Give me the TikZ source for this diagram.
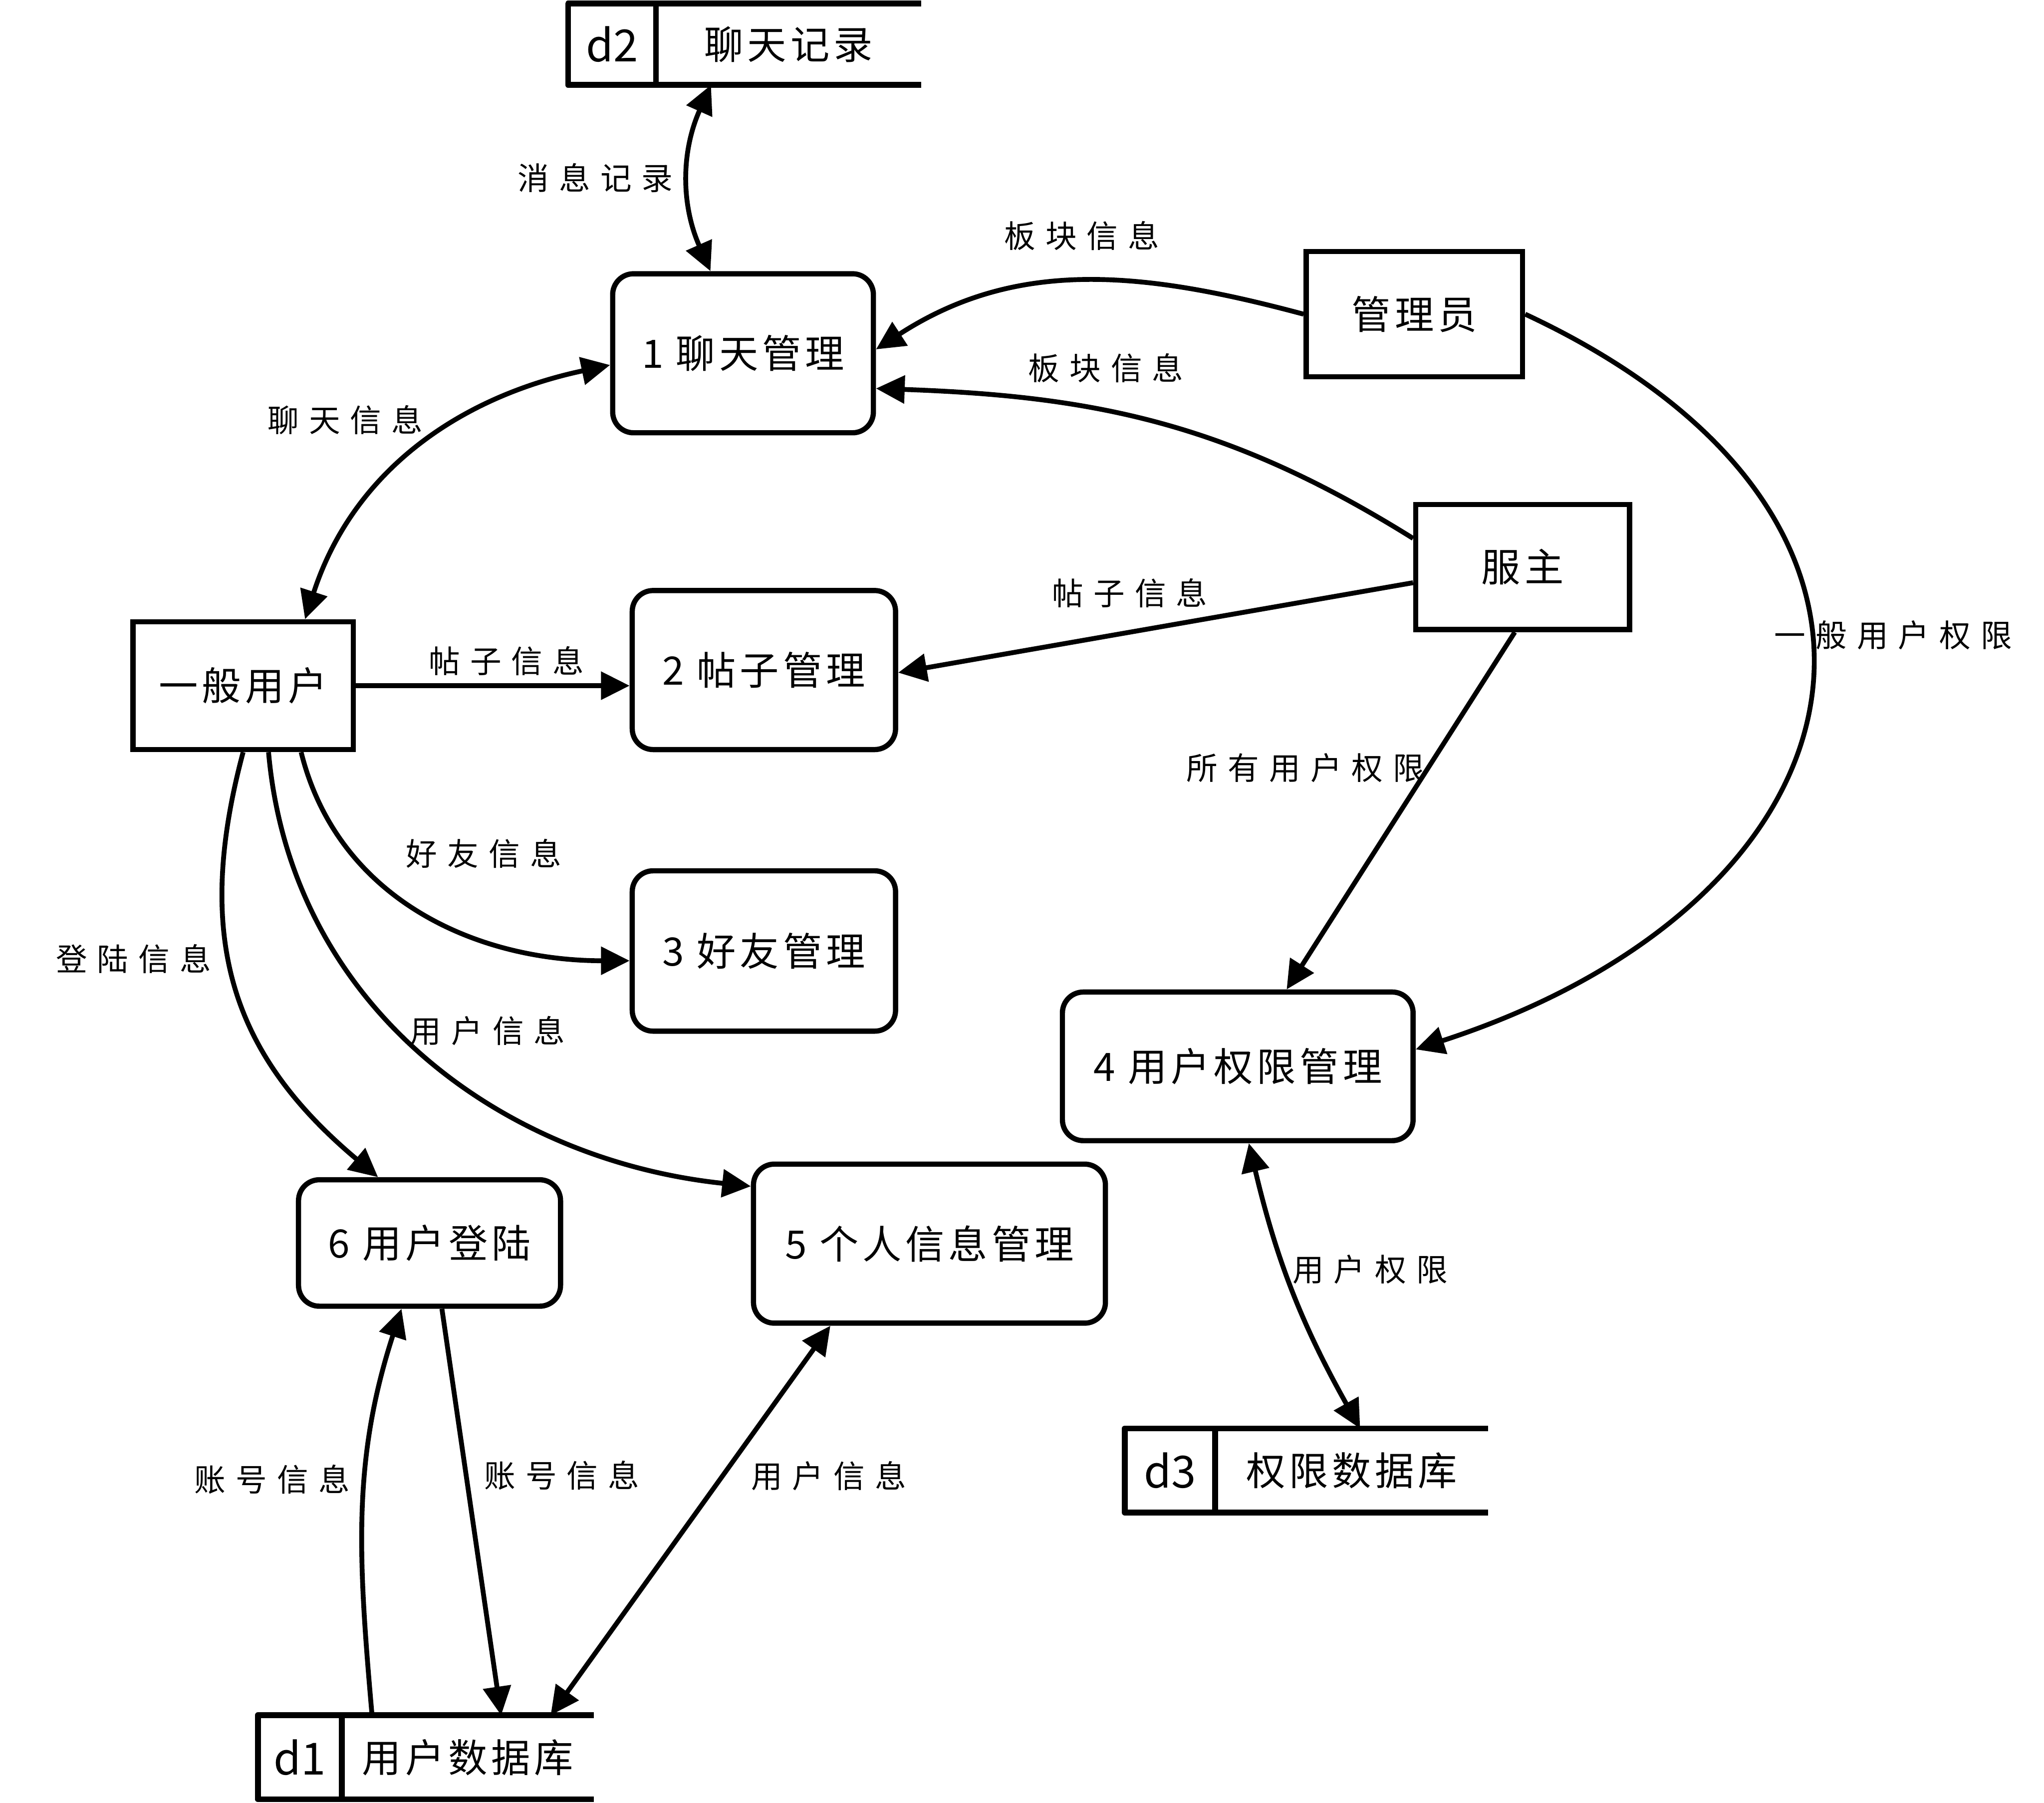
\documentclass[tikz,border=0pt]{standalone}
\usepackage{fontspec}
\setmainfont{Noto Sans CJK SC}
\usepackage{tikz}
\usetikzlibrary{arrows.meta,positioning}
\newcommand\boxfont{\fontsize{30}{34}\selectfont\addfontfeature{LetterSpace=10}}
\newcommand\lblfont{\fontsize{24}{28}\selectfont\addfontfeature{LetterSpace=32}}
\newcommand\idfont{\fontsize{34}{38}\selectfont}

\begin{document}
\begin{tikzpicture}[
  x=1pt,y=1pt,>={Triangle[length=22pt,width=21pt]},
  proc/.style={draw,line width=4pt,rounded corners=16pt,inner sep=0pt,font=\boxfont},
  ent/.style={draw,line width=4pt,inner sep=0pt,font=\boxfont},
  storeid/.style={inner sep=0pt,font=\idfont},
  storename/.style={inner sep=0pt,font=\boxfont},
  storeline/.style={line width=4.5pt,line join=round},
  lbl/.style={inner sep=0pt,font=\lblfont},
  every edge/.style={draw,line width=3.7pt,->}
]
\useasboundingbox (0,0) rectangle (1568,-1383);

% external entities
\node[ent,minimum width=166pt,minimum height=96pt] (admin) at (1085,-241) {管理员};
\node[ent,minimum width=164pt,minimum height=96pt] (owner) at (1168,-435) {服主};
\node[ent,minimum width=169pt,minimum height=98pt] (user) at (186.5,-526) {一般用户};

% processes
\node[proc,minimum width=200pt,minimum height=122pt] (p1) at (570,-271) {1 聊天管理};
\node[proc,minimum width=202pt,minimum height=122pt] (p2) at (586,-514) {2 帖子管理};
\node[proc,minimum width=202pt,minimum height=123pt] (p3) at (586,-729.5) {3 好友管理};
\node[proc,minimum width=269pt,minimum height=114pt] (p4) at (949.5,-818) {4 用户权限管理};
\node[proc,minimum width=270pt,minimum height=122pt] (p5) at (713,-954) {5 个人信息管理};
\node[proc,minimum width=201pt,minimum height=97pt] (p6) at (329.5,-953.5) {6 用户登陆};

% data stores
\node[storeid,minimum width=67pt,minimum height=62pt] (d2id) at (469.5,-34) {d2};
\node[storename,minimum width=203pt,minimum height=62pt,right=0pt of d2id] (d2) {聊天记录};
\node[storeid,minimum width=64pt,minimum height=64pt] (d1id) at (230,-1348) {d1};
\node[storename,minimum width=193pt,minimum height=64pt,right=0pt of d1id] (d1) {用户数据库};
\node[storeid,minimum width=69pt,minimum height=64pt] (d3id) at (897.5,-1128) {d3};
\node[storename,minimum width=209pt,minimum height=64pt,right=0pt of d3id] (d3) {权限数据库};
\foreach \s in {d1,d2,d3}
  \draw[storeline] (\s.north east) -- (\s id.north west) -- (\s id.south west) -- (\s.south east)
                   (\s id.north east) -- (\s id.south east);

% data flows
\path ([xshift=-59.5pt]d2.south) edge[<->,bend right=24] node[lbl,left=10pt]{消息记录} ([xshift=-25pt]p1.north)
      (admin.west) edge[out=165,in=33] node[lbl,above=22pt]{板块信息} ([yshift=3pt]p1.east)
      ([yshift=22pt]owner.west) edge[out=148,in=-2] node[lbl,pos=0.6,above=20pt]{板块信息} ([yshift=-27pt]p1.east)
      ([yshift=-9pt]p1.west) edge[<->,out=192,in=72] node[lbl,pos=0.45,above left=0pt and 7pt]{聊天信息} ([xshift=47.5pt]user.north)
      ([yshift=-12pt]owner.west) edge node[lbl,pos=0.55,above=17pt]{帖子信息} ([yshift=-2pt]p2.east)
      (user.east) edge node[lbl,pos=0.55,above=6pt]{帖子信息} ([yshift=-12pt]p2.west)
      ([xshift=44.5pt]user.south) edge[out=-76,in=180] node[lbl,pos=0.27,right=40pt]{好友信息} ([yshift=-7.5pt]p3.west)
      ([xshift=19.5pt]user.south) edge[out=-85,in=174] node[lbl,pos=0.45,right=7pt]{用户信息} ([yshift=44pt]p5.west)
      (user.south) edge[out=255,in=140,looseness=1.1] node[lbl,pos=0.43,left=12pt]{登陆信息} ([xshift=-39.5pt]p6.north)
      ([xshift=-6pt]owner.south) edge node[lbl,pos=0.38,left=1pt]{所有用户权限} ([xshift=37.5pt]p4.north)
      (admin.east) edge[out=-25,in=18,looseness=1.67] node[lbl,pos=0.42,right=-30pt]{一般用户权限} ([yshift=13pt]p4.east)
      ([xshift=8.5pt]p4.south) edge[<->,bend right=8] node[lbl,pos=0.42,right=4pt]{用户权限} ([xshift=6.5pt]d3.north)
      ([xshift=-73.5pt]d1.north) edge[out=95,in=252] node[lbl,pos=0.58,left=10pt]{账号信息} ([xshift=-21.5pt]p6.south)
      ([xshift=9.5pt]p6.south) edge node[lbl,pos=0.41,right=12pt]{账号信息} ([xshift=25.5pt]d1.north)
      ([xshift=-76pt]p5.south) edge[<->] node[lbl,pos=0.385,right=20pt]{用户信息} ([xshift=63.5pt]d1.north);
\end{tikzpicture}
\end{document}
